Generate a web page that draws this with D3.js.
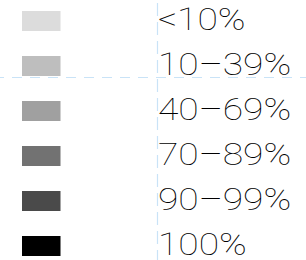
<!DOCTYPE html>
<html>
<head>
<meta charset="utf-8">
<script src="https://cdn.jsdelivr.net/npm/d3@7"></script>
<style>
  html, body { margin: 0; padding: 0; background: #fff; }
  svg { display: block; }
</style>
</head>
<body>
<script>
const categories = ["<10%", "10–39%", "40–69%", "70–89%", "90–99%", "100%"];
const shades = ["#dcdcdc", "#bebebe", "#a0a0a0", "#727272", "#4a4a4a", "#000000"];

const W = 306, H = 260;
const svg = d3.select("body").append("svg").attr("width", W).attr("height", H);

const y = d3.scalePoint().domain(categories).range([21, 246]);
const color = d3.scaleOrdinal().domain(categories).range(shades);

// guide lines
svg.append("line")
  .attr("x1", 0).attr("x2", W).attr("y1", 77.5).attr("y2", 77.5)
  .attr("stroke", "#c9e3f7").attr("stroke-width", 1.2).attr("stroke-dasharray", "10,8")
  .attr("stroke-dashoffset", 6);
svg.append("line")
  .attr("x1", 157.5).attr("x2", 157.5).attr("y1", 3).attr("y2", H)
  .attr("stroke", "#c9e3f7").attr("stroke-width", 1.2).attr("stroke-dasharray", "13,6");

const rows = svg.selectAll("g.row").data(categories).enter().append("g")
  .attr("class", "row")
  .attr("transform", d => `translate(0,${y(d)})`);

rows.append("rect")
  .attr("x", 22).attr("y", -10).attr("width", 38.5).attr("height", 20)
  .attr("fill", d => color(d));

rows.append("text")
  .attr("transform", "translate(158,8.5) scale(1.2,1)")
  .attr("font-family", "Roboto, 'DejaVu Sans', sans-serif")
  .attr("font-weight", 100)
  .attr("font-size", 31)
  .attr("fill", "#000")
  .text(d => d);
</script>
</body>
</html>
